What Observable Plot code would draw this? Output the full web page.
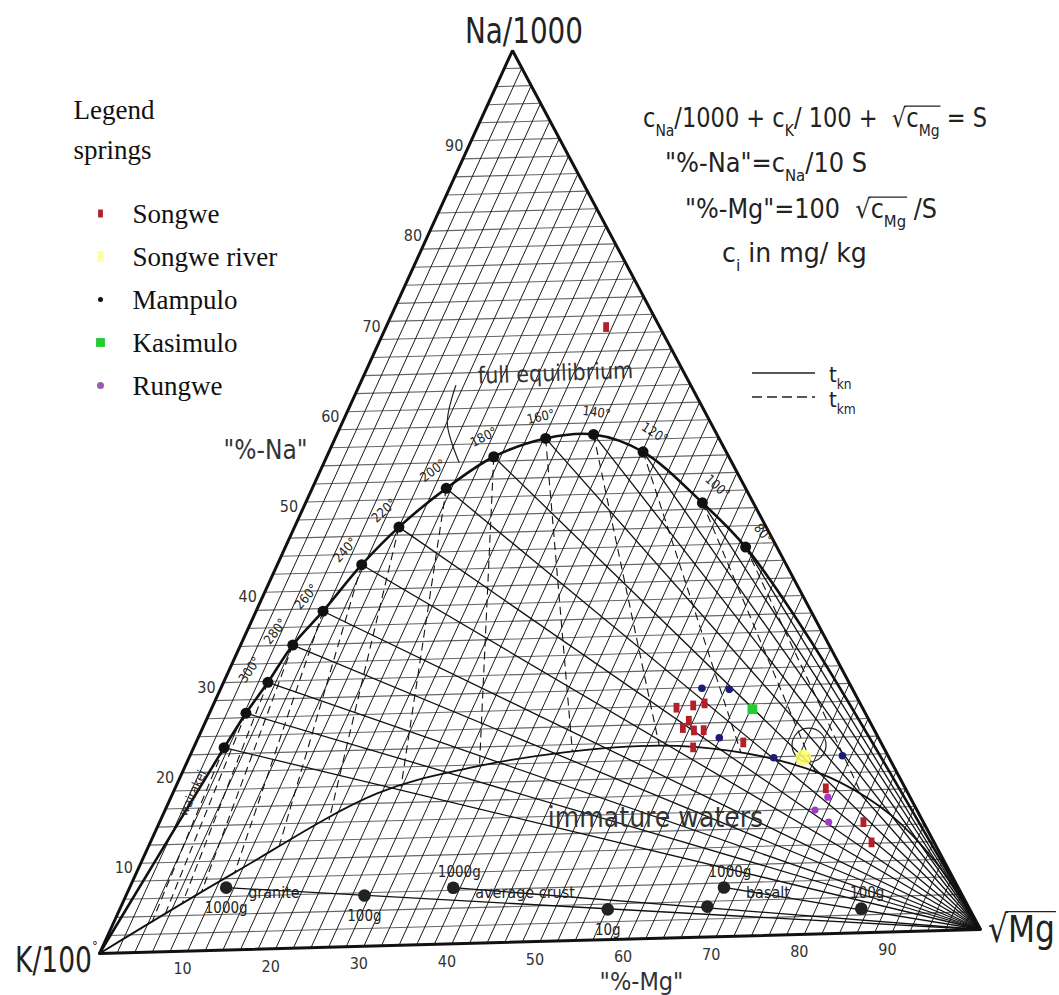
<!DOCTYPE html>
<html>
<head>
<meta charset="utf-8">
<script src="https://cdn.jsdelivr.net/npm/d3@7"></script>
<script src="https://cdn.jsdelivr.net/npm/@observablehq/plot@0.6"></script>
<style>
  html, body { margin: 0; padding: 0; background: #fff; }
  #chart svg { display: block; }
</style>
</head>
<body>
<div id="chart"></div>
<script>
// ================= DATA (ternary %-Mg / %-Na) =================
const tickValues = [10, 20, 30, 40, 50, 60, 70, 80, 90];

// full equilibrium curve (temperature points)
const eqTemps = [340, 320, 300, 280, 260, 240, 220, 200, 180, 160, 140, 120, 100, 80];
const eqMg    = [3.5, 4.2, 5.1, 6.0, 7.7, 9.7, 12.0, 15.4, 19.2, 24.2, 29.5, 36.1, 45.6, 52.9];
const eqNa    = [22.7, 26.5, 29.9, 34.0, 37.7, 42.8, 46.9, 51.1, 54.5, 56.4, 56.7, 54.6, 48.7, 43.6];
const eqLabelTemps = [300, 280, 260, 240, 220, 200, 180, 160, 140, 120, 100, 80];
const eqTailMg = [65.3];
const eqTailNa = [32.9];

// boundary of immature waters
const immMg = [0, 11.2, 23.5, 32.9, 42.4, 53.5, 61.9, 69.4, 76.2, 83.7, 91.3, 100];
const immNa = [0, 8.6, 17.1, 19.7, 21.1, 21.6, 20.8, 19.2, 16.9, 13.1, 7.7, 0];

// isochemical rock dissolution
const rockNames = ["granite", "average crust", "basalt"];
const graniteMg = [11.1, 27.4, 56.1];
const graniteNa = [7.0, 5.7, 3.4];
const graniteAmt = ["1000g", "100g", "10g"];
const crustMg = [37.2, 67.4];
const crustNa = [6.3, 3.4];
const crustAmt = ["1000g", ""];
const basaltMg = [68.3, 85.2];
const basaltNa = [5.5, 2.7];
const basaltAmt = ["1000g", "100g"];

// springs
const springNames = ["Songwe", "Songwe river", "Mampulo", "Kasimulo", "Rungwe"];
const songweMg = [25.3, 53.4, 55.2, 56.4, 55.5, 55.2, 56.6, 57.7, 57.4, 62.9, 74.8, 80.9, 82.9];
const songweNa = [68.7, 25.8, 26.0, 26.2, 24.3, 23.5, 23.2, 23.2, 21.3, 21.7, 16.3, 12.4, 10.1];
const riverMg = [70.6];
const riverNa = [19.8];
const mampuloMg = [55.3, 58.5, 59.9, 67.2, 75.0];
const mampuloNa = [27.9, 27.7, 22.3, 19.9, 19.9];
const kasimuloMg = [62.2];
const kasimuloNa = [25.4];
const rungweMg = [75.5, 74.7, 76.9];
const rungweNa = [15.3, 13.9, 12.5];

// annotations (ternary positions)
const leaderMg = [11.1, 12.1, 15.5];
const leaderNa = [62.6, 58.4, 54.0];
const circleMg = [70.6];
const circleNa = [21.2];
const wairakeiMg = [2.3];
const wairakeiNa = [17.7];

// ================= LAYOUT / STYLE =================
const W = 1059, H = 995;
const FRAME = {K: [99, 953], M: [980, 929], N: [512, 50]};   // apex pixel positions
const px = (mg, na) => FRAME.K[0] + mg / 100 * (FRAME.M[0] - FRAME.K[0]) + na / 100 * (FRAME.N[0] - FRAME.K[0]);
const py = (mg, na) => FRAME.K[1] + mg / 100 * (FRAME.M[1] - FRAME.K[1]) + na / 100 * (FRAME.N[1] - FRAME.K[1]);
const SANS = "'Liberation Sans Narrow','DejaVu Sans Condensed','Liberation Sans',sans-serif";
const SERIF = "'Liberation Serif','DejaVu Serif',serif";
const COL = {Songwe: "#b3202a", river: "#ffff66", Mampulo: "#1c1c78", Kasimulo: "#22cc33", Rungwe: "#a23bc8"};

const zip = (mg, na, extra = {}) => mg.map((m, i) => ({mg: m, na: na[i], ...Object.fromEntries(Object.entries(extra).map(([k, v]) => [k, v[i]]))}));
const X = d => px(d.mg, d.na), Y = d => py(d.mg, d.na);

const eq = zip(eqMg, eqNa, {t: eqTemps});
const curve = [{mg: 0, na: 0}, ...eq, ...zip(eqTailMg, eqTailNa), {mg: 100, na: 0}];
const imm = zip(immMg, immNa);
const apexMg = {mg: 100, na: 0};

// temperature labels: offset along outward normal of the curve, rotated along tangent
const eqLabels = eqLabelTemps.map(t => {
  const i = curve.findIndex(d => d.t === t);
  const a = curve[i - 1], b = curve[i + 1];
  let tx = X(b) - X(a), ty = Y(b) - Y(a);
  const L = Math.hypot(tx, ty); tx /= L; ty /= L;
  return {t, x: X(curve[i]) + ty * 22, y: Y(curve[i]) - tx * 22, rot: Math.atan2(ty, tx) * 180 / Math.PI};
});

// t_km (dashed) lines: from each equilibrium point away from the Na apex to the immature boundary
function immNaAt(mg) {
  for (let i = 1; i < immMg.length; i++) if (mg <= immMg[i]) {
    const f = (mg - immMg[i - 1]) / (immMg[i] - immMg[i - 1]);
    return immNa[i - 1] + f * (immNa[i] - immNa[i - 1]);
  }
  return 0;
}
const kmLines = eq.map(d => {
  const r = d.mg / (100 - d.na);
  let lo = 0, hi = d.na;
  for (let k = 0; k < 50; k++) {
    const mid = (lo + hi) / 2;
    if (mid - immNaAt(r * (100 - mid)) > 0) hi = mid; else lo = mid;
  }
  const na = (lo + hi) / 2;
  return {a: d, b: {mg: r * (100 - na), na}};
});

const rocks = [
  {name: rockNames[0], pts: zip(graniteMg, graniteNa, {amt: graniteAmt})},
  {name: rockNames[1], pts: zip(crustMg, crustNa, {amt: crustAmt})},
  {name: rockNames[2], pts: zip(basaltMg, basaltNa, {amt: basaltAmt})}
];
const amtBelow = {"granite": true, "average crust": false, "basalt": false};
const rockPts = rocks.flatMap(r => r.pts.map(p => ({...p, rock: r.name})));

const gridVals = d3.range(2, 100, 2);
const frame = [{mg: 0, na: 0}, {mg: 100, na: 0}, {mg: 0, na: 100}, {mg: 0, na: 0}];

const vrect = {draw(ctx, size) { const s = Math.sqrt(size); ctx.rect(-s * 0.3, -s * 0.5, s * 0.6, s); }};

const LEG = {x: 100, y0: 213, step: 43, tx: 132};
const legendRows = springNames.map((n, i) => ({name: n, i}));
const legX = () => LEG.x, legY = d => LEG.y0 + d.i * LEG.step;

const svg = Plot.plot({
  width: W, height: H, margin: 0,
  x: {domain: [0, W], range: [0, W], axis: null},
  y: {domain: [0, H], range: [0, H], axis: null},
  style: {background: "#fff", fontFamily: SANS, color: "#1a1a1a"},
  marks: [
    // grid: constant %-Na (horizontal) and constant %-Mg (parallel to left edge)
    Plot.link(gridVals, {x1: n => px(0, n), y1: n => py(0, n), x2: n => px(100 - n, n), y2: n => py(100 - n, n), stroke: "#666", strokeWidth: 1.1}),
    Plot.link(gridVals, {x1: m => px(m, 0), y1: m => py(m, 0), x2: m => px(m, 100 - m), y2: m => py(m, 100 - m), stroke: "#1a1a1a", strokeWidth: 1}),
    // t_kn lines towards the Mg apex
    Plot.link(eq, {x1: X, y1: Y, x2: () => X(apexMg), y2: () => Y(apexMg), stroke: "#111", strokeWidth: 1.3}),
    // t_km dashed lines
    Plot.link(kmLines, {x1: d => X(d.a), y1: d => Y(d.a), x2: d => X(d.b), y2: d => Y(d.b), stroke: "#111", strokeWidth: 1.1, strokeDasharray: "8,5"}),
    // immature waters boundary
    Plot.line(imm, {x: X, y: Y, curve: "catmull-rom", stroke: "#111", strokeWidth: 1.8}),
    // rock dissolution lines
    Plot.link(rocks, {x1: r => X(r.pts[0]), y1: r => Y(r.pts[0]), x2: () => X(apexMg), y2: () => Y(apexMg), stroke: "#111", strokeWidth: 1.3}),
    // full equilibrium curve
    Plot.line(curve, {x: X, y: Y, curve: "catmull-rom", stroke: "#111", strokeWidth: 2.6}),
    // triangle frame
    Plot.line(frame, {x: X, y: Y, stroke: "#111", strokeWidth: 3, strokeLinejoin: "miter"}),
    // leader line and annotation circle
    Plot.line(zip(leaderMg, leaderNa), {x: X, y: Y, curve: "catmull-rom", stroke: "#222", strokeWidth: 1.2}),
    Plot.dot(zip(circleMg, circleNa), {x: X, y: Y, r: 17, stroke: "#222", strokeWidth: 1.2, fill: "none"}),
    // equilibrium points and rock points
    Plot.dot(eq, {x: X, y: Y, r: 5.5, fill: "#111"}),
    Plot.dot(rockPts, {x: X, y: Y, r: 6.3, fill: "#222"}),
    // temperature labels
    Plot.text(eqLabels, {x: "x", y: "y", text: d => `${d.t}°`, rotate: "rot", fontSize: 13, fill: "#222"}),
    // rock labels
    Plot.text(rocks, {x: r => X(r.pts[0]), y: r => Y(r.pts[0]), text: "name", dx: 22, dy: 5, textAnchor: "start", fontSize: 16, fill: "#222"}),
    Plot.text(rockPts.filter(d => amtBelow[d.rock]), {x: X, y: Y, text: "amt", dy: 21, fontSize: 15, fill: "#222"}),
    Plot.text(rockPts.filter(d => !amtBelow[d.rock]), {x: X, y: Y, text: "amt", dy: -15, dx: 6, fontSize: 15, fill: "#222"}),
    // tick labels
    Plot.text(tickValues, {x: t => px(0, t), y: t => py(0, t), text: t => `${t}`, dx: -17, dy: 5, fontSize: 16, fill: "#333"}),
    Plot.text(tickValues, {x: t => px(t, 0), y: t => py(t, 0), text: t => `${t}`, dx: -5, dy: 18, fontSize: 16, fill: "#333"}),
    // axis titles and region labels
    Plot.text(["\"%-Na\""], {x: () => 265, y: () => 450, text: d => d, fontSize: 26, fill: "#333"}),
    Plot.text(["\"%-Mg\""], {x: () => 641, y: () => 981, text: d => d, fontSize: 25, fill: "#333"}),
    Plot.text(["full equilibrium"], {x: () => 555, y: () => 373, text: d => d, fontSize: 23, rotate: -2, fill: "#333"}),
    Plot.text(["immature waters"], {x: () => 655, y: () => 818, text: d => d, fontSize: 28, fill: "#333"}),
    Plot.text(zip(wairakeiMg, wairakeiNa), {x: X, y: Y, text: () => "wairakei", rotate: -65, fontSize: 13, fill: "#222"}),
    // springs
    Plot.dot(zip(songweMg, songweNa), {x: X, y: Y, symbol: vrect, r: 5.5, fill: COL.Songwe}),
    Plot.dot(zip(riverMg, riverNa), {x: X, y: Y, r: 8, fill: COL.river, fillOpacity: 0.85}),
    Plot.dot(zip(mampuloMg, mampuloNa), {x: X, y: Y, r: 3.8, fill: COL.Mampulo}),
    Plot.dot(zip(kasimuloMg, kasimuloNa), {x: X, y: Y, symbol: "square", r: 5.5, fill: COL.Kasimulo}),
    Plot.dot(zip(rungweMg, rungweNa), {x: X, y: Y, r: 3.6, fill: COL.Rungwe}),
    // legend
    Plot.text(["Legend", "springs"], {x: () => 73, y: (d, i) => 110 + i * 40, text: d => d, textAnchor: "start", fontFamily: SERIF, fontSize: 27, fill: "#111"}),
    Plot.text(legendRows, {x: () => LEG.tx, y: d => legY(d) + 1, text: "name", textAnchor: "start", fontFamily: SERIF, fontSize: 27, fill: "#111"}),
    Plot.dot(legendRows.filter(d => d.i === 0), {x: legX, y: legY, symbol: vrect, r: 4.5, fill: COL.Songwe}),
    Plot.dot(legendRows.filter(d => d.i === 1), {x: legX, y: legY, symbol: vrect, r: 6, fill: "#ffffa0"}),
    Plot.dot(legendRows.filter(d => d.i === 2), {x: legX, y: legY, r: 2.5, fill: "#111"}),
    Plot.dot(legendRows.filter(d => d.i === 3), {x: legX, y: legY, symbol: "square", r: 5, fill: COL.Kasimulo}),
    Plot.dot(legendRows.filter(d => d.i === 4), {x: legX, y: legY, r: 3.5, fill: "#9a5ca8"})
  ]
});
document.getElementById("chart").append(svg);

// ================= rich-text annotations (subscripts, radicals) =================
const ann = d3.select(svg).append("g").attr("font-family", SANS).attr("fill", "#222").attr("text-anchor", "start");
function richLine(x0, y0, size, parts, targetW) {
  const line = ann.append("g");
  let x = x0;
  let over = null;
  for (const p0 of parts) {
    const p = typeof p0 === "string" ? {t: p0} : p0;
    const fs = p.sub ? size * 0.62 : size;
    const yy = y0 + (p.sub ? size * 0.33 : 0);
    const t = line.append("text").attr("x", x).attr("y", yy).attr("font-size", fs)
      .attr("text-anchor", "start").style("white-space", "pre").text(p.t);
    const w = t.node().getComputedTextLength();
    if (p.over) over = over ? [over[0], x + w] : [x, x + w];
    x += w;
  }
  if (over) line.append("line").attr("x1", over[0] - 2).attr("x2", over[1] + 1)
    .attr("y1", y0 - size * 0.8).attr("y2", y0 - size * 0.8).attr("stroke", "#222").attr("stroke-width", 1.3);
  const total = x - x0;
  if (targetW) line.attr("transform", `translate(${x0},0) scale(${targetW / total},1) translate(${-x0},0)`);
  return line;
}
// apex labels
richLine(465, 43, 36, ["Na/1000"], 118);
richLine(15, 972, 36, ["K/100"], 77);
richLine(92, 950, 13, ["°"]);
richLine(988, 942, 38, ["√", {t: "Mg", over: true}], 67);
// formula block
richLine(643, 127, 26, ["c", {t: "Na", sub: true}, "/1000 + c", {t: "K", sub: true}, "/ 100 +  √", {t: "c", over: true}, {t: "Mg", sub: true, over: true}, " = S"], 344);
richLine(665, 172, 26, ["\"%-Na\"=c", {t: "Na", sub: true}, "/10 S"], 202);
richLine(685, 218, 26, ["\"%-Mg\"=100  √", {t: "c", over: true}, {t: "Mg", sub: true, over: true}, " /S"], 252);
richLine(722, 262, 26, ["c", {t: "i", sub: true}, " in mg/ kg"], 145);
// t_kn / t_km key
ann.append("line").attr("x1", 752).attr("x2", 815).attr("y1", 373).attr("y2", 373).attr("stroke", "#222").attr("stroke-width", 1.6);
ann.append("line").attr("x1", 752).attr("x2", 815).attr("y1", 397).attr("y2", 397).attr("stroke", "#222").attr("stroke-width", 1.6).attr("stroke-dasharray", "10,5");
richLine(829, 382, 22, ["t", {t: "kn", sub: true}]);
richLine(829, 407, 22, ["t", {t: "km", sub: true}]);
</script>
</body>
</html>
